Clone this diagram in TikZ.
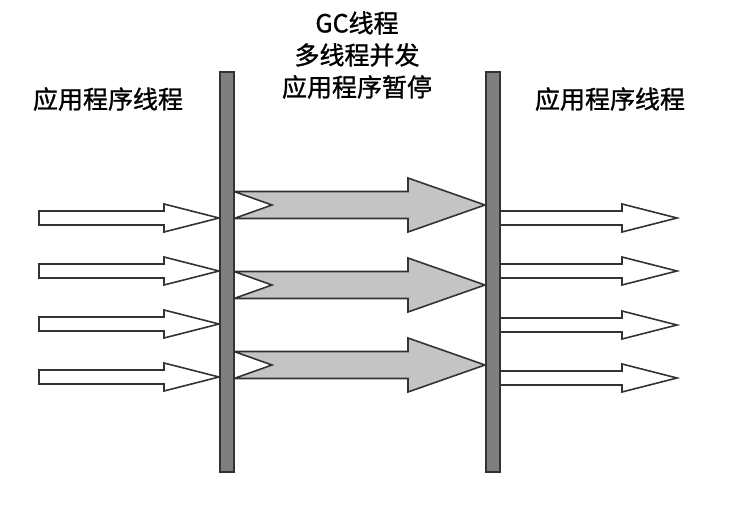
\documentclass[tikz,border=0pt]{standalone}
\usepackage{fontspec}
\newfontfamily\cjk[FakeBold=1.2]{Noto Sans CJK SC}
\definecolor{edge}{HTML}{333333}
\definecolor{barfill}{HTML}{7F7F7F}
\definecolor{gcfill}{HTML}{C4C4C4}
\tikzset{
  label/.style={font=\cjk\fontsize{25}{32}\selectfont, align=center, inner sep=0pt},
  bar/.style={draw=edge, fill=barfill, line width=1.6pt},
  appArrow/.style={draw=edge, fill=white, line width=1.6pt, line join=miter},
  gcArrow/.style={draw=edge, fill=gcfill, line width=1.6pt, line join=miter}
}
\begin{document}
\begin{tikzpicture}[x=1pt,y=-1pt]
  \useasboundingbox (0,0) rectangle (745,505);
  % labels
  \node[label] (appL) at (108,99) {应用程序线程};
  \node[label] (gc) at (357,55) {GC线程\\多线程并发\\应用程序暂停};
  \node[label] (appR) at (610,99) {应用程序线程};
  % application threads before the pause
  \foreach \c in {218,271,324,377}
    \draw[appArrow] (39,\c-7) -- (164,\c-7) -- (164,\c-14) -- (219,\c)
      -- (164,\c+14) -- (164,\c+7) -- (39,\c+7) -- cycle;
  % gc threads
  \foreach \c in {205,285,365}
    \draw[gcArrow] (234,\c-13.5) -- (408,\c-13.5) -- (408,\c-27) -- (485,\c)
      -- (408,\c+27) -- (408,\c+13.5) -- (234,\c+13.5) -- (272,\c) -- cycle;
  % application threads after the pause
  \foreach \c in {218,271,325,378}
    \draw[appArrow] (500,\c-7) -- (622,\c-7) -- (622,\c-14) -- (677,\c)
      -- (622,\c+14) -- (622,\c+7) -- (500,\c+7) -- cycle;
  % pause bars
  \draw[bar] (220,72) rectangle (234,472);
  \draw[bar] (486,72) rectangle (500,472);
\end{tikzpicture}
\end{document}
